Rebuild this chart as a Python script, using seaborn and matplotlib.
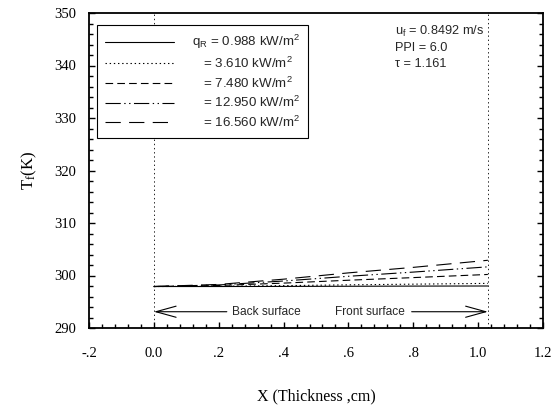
import numpy as np
import pandas as pd
import matplotlib
matplotlib.use("Agg")
import matplotlib.pyplot as plt
import seaborn as sns
from matplotlib.ticker import MultipleLocator, FixedLocator, FixedFormatter

sns.set_theme(style="ticks")
plt.rcParams["lines.scale_dashes"] = False
plt.rcParams["font.family"] = ["Liberation Sans", "DejaVu Sans"]
plt.rcParams["mathtext.fontset"] = "custom"
plt.rcParams["mathtext.rm"] = "Liberation Sans"
plt.rcParams["mathtext.it"] = "Liberation Sans"

# ---- data ----
thickness = 1.03
x_pos = [0.0, 0.2, 0.4, 0.6, 0.8, 1.03]
T_q0988 = [297.9, 297.9, 297.92, 297.95, 297.98, 298.0]
T_q3610 = [297.9, 297.95, 298.07, 298.22, 298.35, 298.5]
T_q7480 = [297.9, 298.1, 298.55, 299.1, 299.6, 300.2]
T_q12950 = [297.9, 298.2, 298.95, 299.85, 300.65, 301.65]
T_q16560 = [297.9, 298.3, 299.3, 300.5, 301.55, 302.9]
series_labels = [r"q$_\mathregular{R}$ = 0.988 kW/m$^\mathregular{2}$",
                 r"   = 3.610 kW/m$^\mathregular{2}$",
                 r"   = 7.480 kW/m$^\mathregular{2}$",
                 r"   = 12.950 kW/m$^\mathregular{2}$",
                 r"   = 16.560 kW/m$^\mathregular{2}$"]
x_ticks = [-0.2, 0.0, 0.2, 0.4, 0.6, 0.8, 1.0, 1.2]
x_tick_labels = ["-.2", "0.0", ".2", ".4", ".6", ".8", "1.0", "1.2"]
y_ticks = [290, 300, 310, 320, 330, 340, 350]

series = [T_q0988, T_q3610, T_q7480, T_q12950, T_q16560]
styles = ["-", (0, (1, 2)), (0, (5.5, 3)), (0, (11, 2.5, 1, 2.5, 1, 2.5)), (0, (11, 6))]

fig = plt.figure(figsize=(5.55, 4.07), dpi=100)
ax = fig.add_axes([89 / 555, 1 - 328 / 407, 454 / 555, 315 / 407])

for vals, ls, lab in zip(series, styles, series_labels):
    df = pd.DataFrame({"x": x_pos, "T": vals})
    sns.lineplot(data=df, x="x", y="T", ax=ax, color="black", lw=0.8,
                 linestyle=ls, label=lab, estimator=None, sort=False)

# surface markers
ax.axvline(0.0, color="black", lw=0.6, ls=(0, (1, 2)), zorder=1)
ax.axvline(thickness, color="black", lw=0.6, ls=(0, (1, 2)), zorder=1)

arrow_y = 293.1
ap = dict(arrowstyle="->,head_length=1.45,head_width=0.4", color="black",
          lw=0.8, mutation_scale=10, shrinkA=0, shrinkB=0)
ax.annotate("", xy=(0.0, arrow_y), xytext=(0.225, arrow_y), arrowprops=ap)
ax.annotate("", xy=(thickness, arrow_y), xytext=(0.795, arrow_y), arrowprops=ap)
ax.text(0.24, arrow_y, "Back surface", ha="left", va="center", fontsize=8.6)
ax.text(0.775, arrow_y, "Front surface", ha="right", va="center", fontsize=8.6)

ax.set_xlim(-0.2, 1.2)
ax.set_ylim(290, 350)
ax.xaxis.set_major_locator(FixedLocator(x_ticks))
ax.xaxis.set_major_formatter(FixedFormatter(x_tick_labels))
ax.xaxis.set_minor_locator(MultipleLocator(0.04))
ax.yaxis.set_major_locator(FixedLocator(y_ticks))
ax.yaxis.set_minor_locator(MultipleLocator(2))

ax.tick_params(axis="both", which="both", direction="in", color="black", width=1.0)
ax.tick_params(axis="both", which="major", length=4)
ax.tick_params(axis="both", which="minor", length=3)
ax.tick_params(axis="x", which="both", bottom=True, top=False, pad=14)
ax.tick_params(axis="y", which="both", left=True, right=True, pad=9)
for t in ax.get_xticklabels() + ax.get_yticklabels():
    t.set_fontfamily("Liberation Serif")
    t.set_fontsize(10.5)
    t.set_color("black")
for s in ax.spines.values():
    s.set_visible(True)
    s.set_color("black")
    s.set_linewidth(1.3)

ax.set_xlabel("X (Thickness ,cm)", fontfamily="Liberation Serif", fontsize=11.5,
              color="black", labelpad=20)
ax.set_ylabel(r"T$_\mathregular{f}$(K)", fontfamily="Liberation Serif", fontsize=12,
              color="black", labelpad=11)

leg = ax.legend(loc="upper left", bbox_to_anchor=(0.0176, 0.962), borderaxespad=0,
                frameon=True, fancybox=False, edgecolor="black", fontsize=9.6,
                handlelength=5.2, handletextpad=1.3, labelspacing=0.34,
                borderpad=0.6)
leg.get_frame().set_linewidth(0.8)
leg.get_frame().set_alpha(1)

ax.text(0.674, 0.94, r"u$_\mathregular{f}$ = 0.8492 m/s", transform=ax.transAxes,
        ha="left", va="center", fontsize=9.2)
ax.text(0.674, 0.889, "PPI = 6.0", transform=ax.transAxes, ha="left", va="center", fontsize=9.2)
ax.text(0.674, 0.838, "τ = 1.161", transform=ax.transAxes, ha="left", va="center", fontsize=9.2)

fig.savefig("out.png", dpi=100, facecolor="white")
